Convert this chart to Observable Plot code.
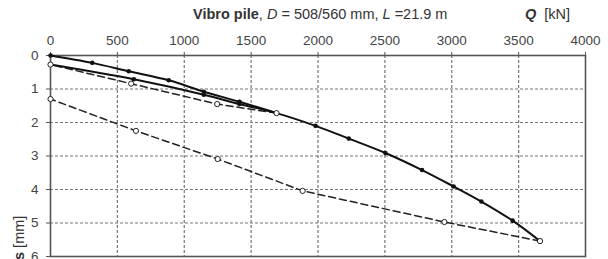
<!DOCTYPE html>
<html>
<head>
<meta charset="utf-8">
<script src="https://cdn.jsdelivr.net/npm/d3@7"></script>
<script src="https://cdn.jsdelivr.net/npm/@observablehq/plot@0.6"></script>
<style>
  body { margin: 0; background: white; }
  #wrap { position: relative; width: 608px; height: 259px; overflow: hidden; font-family: "Liberation Sans", Arial, sans-serif; color: #333; }
  .lbl { position: absolute; white-space: nowrap; font-size: 14.5px; line-height: 1; }
</style>
</head>
<body>
<div id="wrap">
  <div id="chart"></div>
  <div class="lbl" style="left:193px; top:7px;"><b>Vibro pile</b>, <i>D</i> = 508/560 mm, <i>L</i> =21.9 m</div>
  <div class="lbl" style="left:525px; top:7px;"><b><i>Q</i></b>&nbsp; [kN]</div>
  <div class="lbl" style="left:12px; top:260px; transform-origin: 0 0; transform: rotate(-90deg);"><b>s</b> [mm]</div>
</div>
<script>
// Tick values
const xTicks = [0, 500, 1000, 1500, 2000, 2500, 3000, 3500, 4000];
const yTicks = [0, 1, 2, 3, 4, 5, 6];

// First loading (solid)
const load1Q = [0, 312, 585, 884, 1146, 1413, 1690];
const load1S = [0, 0.22, 0.47, 0.74, 1.08, 1.38, 1.72];
// First unloading (dashed)
const unload1Q = [1690, 1246, 603, 0];
const unload1S = [1.72, 1.45, 0.84, 0.27];
// Reloading to final load (solid)
const reloadQ = [0, 623, 1146, 1413, 1690, 1981, 2230, 2504, 2778, 3014, 3221, 3455, 3660];
const reloadS = [0.27, 0.71, 1.17, 1.45, 1.72, 2.10, 2.48, 2.91, 3.42, 3.91, 4.36, 4.93, 5.54];
// Final unloading (dashed)
const unload2Q = [3660, 2945, 1885, 1250, 639, 0];
const unload2S = [5.54, 4.97, 4.04, 3.09, 2.25, 1.30];

const toRows = (qs, ss) => qs.map((q, i) => ({Q: q, s: ss[i]}));
const load1 = toRows(load1Q, load1S);
const unload1 = toRows(unload1Q, unload1S);
const reload = toRows(reloadQ, reloadS);
const unload2 = toRows(unload2Q, unload2S);

const filled = [...load1.slice(0, -1), ...reload.slice(1, -1)];
const open = [load1[load1.length - 1], ...unload1.slice(1), ...unload2];

const chart = Plot.plot({
  width: 608,
  height: 259,
  marginLeft: 50,
  marginRight: 23,
  marginTop: 55,
  marginBottom: 3,
  style: {fontFamily: "Liberation Sans, Arial, sans-serif", fontSize: "13.5px", color: "#444", background: "white", overflow: "visible"},
  x: {domain: [0, 4000]},
  y: {domain: [0, 6], reverse: true},
  marks: [
    Plot.gridX(xTicks.slice(1, -1), {stroke: "#777", strokeOpacity: 1, strokeDasharray: "3,2", strokeWidth: 1.2}),
    Plot.gridY(yTicks.slice(1, -1), {stroke: "#777", strokeOpacity: 1, strokeDasharray: "3,2", strokeWidth: 1.2}),
    Plot.axisX(xTicks, {anchor: "top", tickSize: 4, tickPadding: 7, label: null, stroke: "#555", tickFormat: d => String(d)}),
    Plot.axisY(yTicks, {anchor: "left", tickSize: 4, tickPadding: 8, label: null, stroke: "#555", tickFormat: d => String(d)}),
    Plot.frame({stroke: "#555", strokeWidth: 1.6}),
    Plot.line(unload1, {x: "Q", y: "s", stroke: "#222", strokeWidth: 1.5, strokeDasharray: "7,4"}),
    Plot.line(unload2, {x: "Q", y: "s", stroke: "#222", strokeWidth: 1.5, strokeDasharray: "7,4"}),
    Plot.line(load1, {x: "Q", y: "s", stroke: "#111", strokeWidth: 2, curve: "catmull-rom"}),
    Plot.line(reload, {x: "Q", y: "s", stroke: "#111", strokeWidth: 2, curve: "catmull-rom"}),
    Plot.dot(filled, {x: "Q", y: "s", r: 2.3, fill: "#111"}),
    Plot.dot(open, {x: "Q", y: "s", r: 2.6, fill: "white", stroke: "#222", strokeWidth: 1})
  ]
});
document.getElementById("chart").appendChild(chart);
</script>
</body>
</html>
